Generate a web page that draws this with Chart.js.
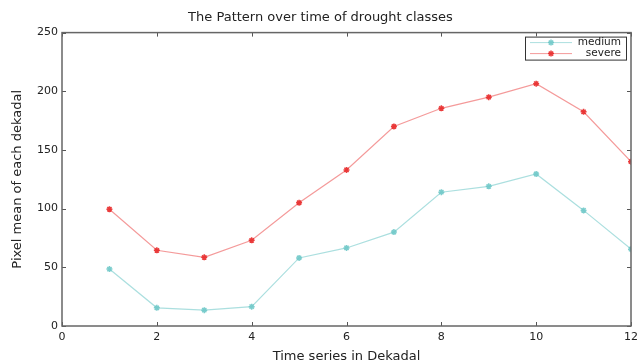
<!DOCTYPE html>
<html>
<head>
<style>
  html, body { margin: 0; padding: 0; background: #fff; }
  #wrap { width: 637px; height: 364px; }
</style>
</head>
<body>
<div id="wrap"><canvas id="chartDrought"></canvas></div>
<script src="https://cdn.jsdelivr.net/npm/chart.js@4"></script>
<script>
(function() {
    const dekads = [1, 2, 3, 4, 5, 6, 7, 8, 9, 10, 11, 12];
    const medium = [48.5, 15.5, 13.5, 16.5, 58, 66.5, 80, 114, 119, 129.5, 98.5, 65.5];
    const severe = [99.5, 64.5, 58.5, 73, 105, 133, 170, 185.5, 195, 206.5, 182.5, 140];
    const xTicks = [0, 2, 4, 6, 8, 10, 12];
    const yTicks = [0, 50, 100, 150, 200, 250];

    const FONT = "'DejaVu Sans', sans-serif";
    const TEXT = '#222';

    // matplotlib-ish inward ticks on all four sides + legend box in the corner
    const frameTicks = {
        id: 'frameTicks',
        afterDatasetsDraw(chart) {
            const ctx = chart.ctx, a = chart.chartArea;
            const x = chart.scales.x, y = chart.scales.y;
            ctx.save();
            ctx.strokeStyle = '#555';
            ctx.lineWidth = 1;
            ctx.beginPath();
            xTicks.forEach(v => {
                const px = Math.round(x.getPixelForValue(v)) + 0.5;
                ctx.moveTo(px, a.bottom); ctx.lineTo(px, a.bottom - 4);
                ctx.moveTo(px, a.top); ctx.lineTo(px, a.top + 4);
            });
            yTicks.forEach(v => {
                const py = Math.round(y.getPixelForValue(v)) + 0.5;
                ctx.moveTo(a.left, py); ctx.lineTo(a.left + 4, py);
                ctx.moveTo(a.right, py); ctx.lineTo(a.right - 4, py);
            });
            ctx.stroke();
            ctx.strokeStyle = '#666';
            ctx.lineWidth = 1.5;
            ctx.strokeRect(a.left, a.top, a.right - a.left, a.bottom - a.top);

            // legend
            const bx = a.right - 106, by = a.top + 4, bw = 101, bh = 23;
            ctx.fillStyle = '#fff';
            ctx.fillRect(bx, by, bw, bh);
            ctx.strokeStyle = '#333';
            ctx.lineWidth = 1;
            ctx.strokeRect(bx + 0.5, by + 0.5, bw, bh);
            ctx.font = '10.5px ' + FONT;
            ctx.textAlign = 'right';
            ctx.textBaseline = 'middle';
            chart.data.datasets.forEach((ds, i) => {
                const ly = by + 6 + i * 11;
                ctx.strokeStyle = ds.borderColor;
                ctx.lineWidth = 1;
                ctx.beginPath();
                ctx.moveTo(bx + 5, ly); ctx.lineTo(bx + 47, ly);
                ctx.stroke();
                ctx.strokeStyle = ds.pointBorderColor;
                ctx.fillStyle = ds.pointBackgroundColor;
                ctx.lineWidth = 1.5;
                Chart.helpers.drawPoint(ctx, { pointStyle: 'star', radius: 3, borderWidth: 1.5 }, bx + 26, ly);
                ctx.fillStyle = TEXT;
                ctx.fillText(ds.label, bx + bw - 5, ly);
            });
            ctx.restore();
        }
    };

    new Chart(document.getElementById('chartDrought').getContext('2d'), {
        type: 'line',
        data: {
            datasets: [{
                label: 'medium',
                data: dekads.map((d, i) => ({ x: d, y: medium[i] })),
                borderColor: 'rgba(150,215,215,0.8)',
                borderWidth: 1.2,
                pointStyle: 'star',
                pointRadius: 3,
                pointBorderWidth: 1.5,
                pointBorderColor: 'rgba(110,200,200,0.9)',
                pointBackgroundColor: 'rgba(110,200,200,0.9)',
                tension: 0
            }, {
                label: 'severe',
                data: dekads.map((d, i) => ({ x: d, y: severe[i] })),
                borderColor: 'rgba(240,120,120,0.75)',
                borderWidth: 1.2,
                pointStyle: 'star',
                pointRadius: 3,
                pointBorderWidth: 1.5,
                pointBorderColor: 'rgba(232,40,40,0.9)',
                pointBackgroundColor: 'rgba(232,40,40,0.9)',
                tension: 0
            }]
        },
        options: {
            responsive: true,
            maintainAspectRatio: false,
            animation: false,
            layout: { padding: { left: 10, right: 6, top: 0, bottom: 0 } },
            plugins: {
                legend: { display: false },
                tooltip: { enabled: false },
                title: {
                    display: true,
                    text: 'The Pattern over time of drought classes',
                    color: TEXT,
                    font: { family: FONT, size: 13, weight: 'normal' },
                    padding: { top: 10, bottom: 7 }
                }
            },
            scales: {
                x: {
                    type: 'linear',
                    min: 0, max: 12,
                    afterBuildTicks: s => { s.ticks = xTicks.map(v => ({ value: v })); },
                    grid: { display: false, drawTicks: false },
                    border: { display: false },
                    ticks: { color: TEXT, font: { family: FONT, size: 11 }, padding: 5, maxRotation: 0 },
                    title: {
                        display: true,
                        text: 'Time series in Dekadal',
                        color: TEXT,
                        font: { family: FONT, size: 13 },
                        padding: { top: 2, bottom: 0 }
                    },
                    afterFit: s => { s.height = 38; s.paddingRight = 0; s.paddingLeft = 0; }
                },
                y: {
                    min: 0, max: 250,
                    afterBuildTicks: s => { s.ticks = yTicks.map(v => ({ value: v })); },
                    grid: { display: false, drawTicks: false },
                    border: { display: false },
                    ticks: { color: TEXT, font: { family: FONT, size: 11 }, padding: 4 },
                    title: {
                        display: true,
                        text: 'Pixel mean of each dekadal',
                        color: TEXT,
                        font: { family: FONT, size: 13 },
                        padding: { top: 0, bottom: 4 }
                    },
                    afterFit: s => { s.width = 52; s.paddingTop = 0; s.paddingBottom = 0; }
                }
            }
        },
        plugins: [frameTicks]
    });
})();
</script>
</body>
</html>
